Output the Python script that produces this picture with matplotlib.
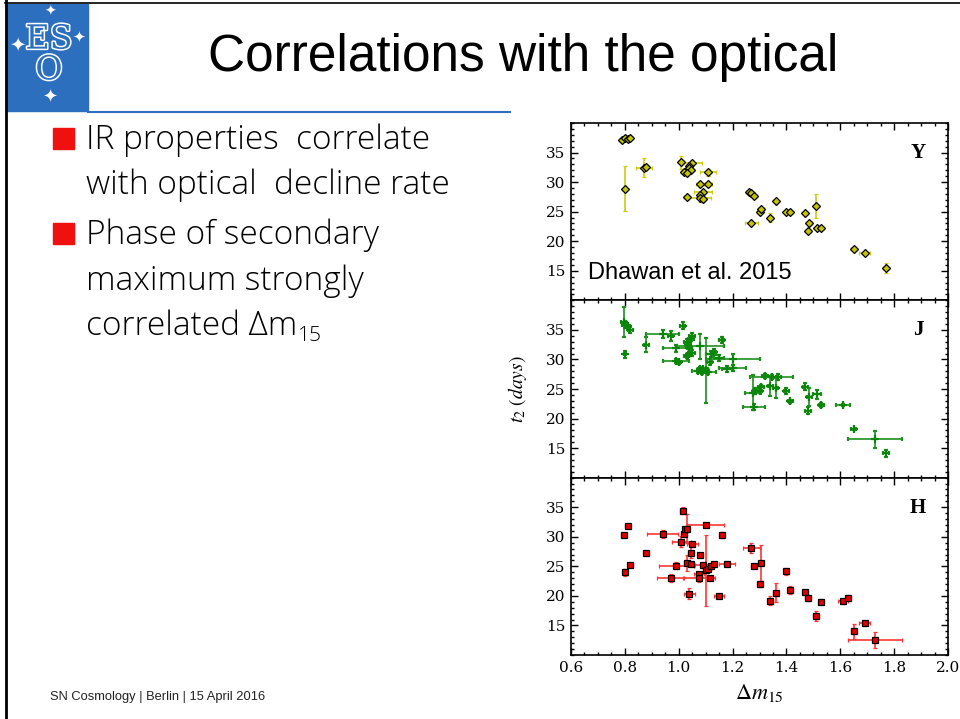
import matplotlib
matplotlib.use('Agg')
import matplotlib.pyplot as plt
import matplotlib.patheffects as pe
from matplotlib.patches import Rectangle
from matplotlib.ticker import MultipleLocator

plt.rcParams['mathtext.fontset'] = 'stix'

# t2 (days) against delta m15 (Dhawan et al. 2015)
# Y band
y_dm = [0.79, 0.80, 0.81, 0.82, 0.80, 0.87, 0.88, 1.01, 1.05, 1.04, 1.04, 1.045, 1.02, 1.03,
        1.11, 1.03, 1.08, 1.11, 1.09, 1.08, 1.08, 1.09, 1.26, 1.27, 1.28, 1.27, 1.30, 1.305,
        1.34, 1.36, 1.40, 1.415, 1.47, 1.485, 1.48, 1.51, 1.515, 1.53, 1.65, 1.69, 1.77]
y_t2 = [37.1, 37.4, 37.3, 37.5, 28.9, 32.4, 32.6, 33.4, 33.2, 32.8, 32.4, 32.1, 31.7, 31.5,
        31.7, 27.5, 29.6, 29.7, 28.3, 27.9, 27.3, 27.2, 28.3, 28.1, 27.7, 23.0, 25.0, 25.4,
        24.0, 26.8, 24.9, 24.9, 24.8, 23.0, 21.7, 26.0, 22.2, 22.3, 18.7, 18.0, 15.5]
y_dm_err = [0.01, 0.01, 0.01, 0.01, 0.005, 0.03, 0.01, 0.01, 0.035, 0.01, 0.01, 0.01, 0.01, 0.01,
            0.03, 0.01, 0.017, 0.015, 0.035, 0.01, 0.04, 0.01, 0.01, 0.01, 0.01, 0.023, 0.01, 0.01,
            0.01, 0.01, 0.01, 0.01, 0.01, 0.01, 0.01, 0.005, 0.01, 0.01, 0.01, 0.02, 0.01]
y_t2_err = [0.3, 0.3, 0.2, 0.2, 3.8, 1.6, 0.4, 1.1, 0.4, 0.3, 0.3, 0.3, 0.3, 0.3,
            0.6, 0.3, 0.3, 0.3, 0.3, 0.3, 0.6, 0.6, 0.2, 0.2, 0.2, 0.2, 0.3, 0.3,
            0.7, 0.3, 0.2, 0.2, 0.2, 0.4, 0.2, 2.0, 0.2, 0.2, 0.3, 0.2, 0.8]

# J band
j_dm = [0.795, 0.80, 0.81, 0.82, 0.80, 0.88, 0.94, 0.97, 1.015, 0.99, 0.99, 1.00, 1.03, 1.035,
        1.04, 1.045, 1.05, 1.04, 1.05, 1.03, 1.08, 1.08, 1.09, 1.07, 1.085, 1.10, 1.11, 1.115,
        1.12, 1.13, 1.15, 1.16, 1.18, 1.20, 1.20, 1.275, 1.28, 1.285, 1.30, 1.305, 1.32, 1.345,
        1.34, 1.36, 1.37, 1.40, 1.415, 1.47, 1.485, 1.48, 1.515, 1.53, 1.61, 1.65, 1.73, 1.77]
j_t2 = [36.3, 35.9, 35.6, 35.0, 30.9, 32.5, 34.3, 34.0, 35.7, 31.9, 29.7, 29.5, 32.9, 32.5,
        32.0, 33.4, 34.0, 30.9, 31.1, 30.6, 32.2, 28.4, 28.3, 28.0, 27.8, 28.2, 27.9, 29.5,
        30.9, 31.3, 30.2, 33.3, 28.4, 28.5, 30.0, 24.4, 21.9, 24.6, 24.7, 25.3, 27.2, 27.0,
        25.5, 25.1, 27.1, 24.7, 22.9, 25.4, 23.7, 21.3, 24.1, 22.3, 22.3, 18.2, 16.5, 14.1]
j_dm_err = [0.01, 0.01, 0.01, 0.01, 0.005, 0.01, 0.06, 0.01, 0.01, 0.05, 0.05, 0.01, 0.01, 0.01,
            0.01, 0.01, 0.01, 0.01, 0.01, 0.01, 0.09, 0.01, 0.02, 0.02, 0.01, 0.01, 0.03, 0.01,
            0.02, 0.01, 0.02, 0.01, 0.02, 0.05, 0.10, 0.03, 0.04, 0.01, 0.01, 0.01, 0.01, 0.08,
            0.01, 0.01, 0.01, 0.01, 0.01, 0.01, 0.01, 0.01, 0.015, 0.01, 0.025, 0.01, 0.10, 0.01]
j_t2_err = [2.5, 0.6, 0.3, 0.5, 0.6, 1.3, 0.7, 0.8, 0.6, 0.6, 0.3, 0.2, 0.5, 0.5,
            0.3, 0.3, 0.5, 0.3, 0.5, 0.3, 2.1, 0.3, 0.3, 0.3, 0.3, 5.5, 0.3, 0.5,
            0.5, 0.5, 0.5, 0.5, 0.5, 0.5, 1.0, 3.0, 0.5, 0.5, 0.4, 0.4, 0.4, 0.3,
            1.7, 1.7, 0.5, 0.5, 0.3, 0.6, 1.5, 0.6, 0.8, 0.4, 0.1, 0.1, 1.4, 0.6]

# H band
h_dm = [0.795, 0.81, 0.80, 0.82, 0.88, 0.94, 0.97, 0.99, 1.015, 1.01, 1.02, 1.025, 1.03, 1.10,
        1.05, 1.045, 1.03, 1.045, 1.04, 1.08, 1.09, 1.10, 1.075, 1.075, 1.11, 1.115, 1.12, 1.13,
        1.15, 1.16, 1.18, 1.27, 1.28, 1.305, 1.30, 1.34, 1.36, 1.40, 1.415, 1.47, 1.48, 1.51,
        1.53, 1.61, 1.63, 1.65, 1.69, 1.73]
h_t2 = [30.3, 31.8, 24.0, 25.2, 27.3, 30.5, 23.0, 25.1, 34.4, 29.2, 30.5, 31.3, 31.4, 32.0,
        28.7, 27.3, 25.6, 25.4, 20.4, 26.9, 25.2, 24.3, 23.7, 23.0, 24.6, 23.1, 25.1, 25.4,
        20.0, 30.3, 25.4, 28.1, 25.1, 25.6, 22.0, 19.2, 20.5, 24.2, 21.0, 20.7, 19.7, 16.6,
        19.0, 19.1, 19.7, 14.0, 15.4, 12.5]
h_dm_err = [0.01, 0.01, 0.005, 0.01, 0.01, 0.058, 0.05, 0.065, 0.01, 0.035, 0.01, 0.01, 0.01, 0.07,
            0.02, 0.01, 0.01, 0.01, 0.02, 0.01, 0.03, 0.01, 0.02, 0.06, 0.01, 0.01, 0.01, 0.01,
            0.02, 0.01, 0.03, 0.03, 0.01, 0.01, 0.01, 0.01, 0.01, 0.01, 0.01, 0.01, 0.01, 0.01,
            0.01, 0.02, 0.01, 0.01, 0.02, 0.10]
h_t2_err = [0.2, 0.2, 0.6, 0.2, 0.3, 0.7, 0.7, 0.6, 0.6, 1.0, 0.4, 0.3, 2.5, 0.2,
            0.3, 0.9, 1.4, 0.3, 1.0, 0.2, 0.2, 6.0, 0.3, 0.6, 0.3, 0.2, 0.3, 0.4,
            0.4, 0.5, 0.4, 0.8, 0.2, 3.0, 0.5, 0.8, 1.6, 0.6, 0.6, 0.2, 0.5, 0.8,
            0.4, 0.4, 0.4, 1.3, 0.2, 1.4]

bullets = ['IR properties  correlate', 'with optical  decline rate',
           'Phase of secondary', 'maximum strongly', 'correlated \u0394m']

W, H = 960, 719
eso_blue = '#2d6fbf'
fig = plt.figure(figsize=(9.6, 7.19), dpi=100)

# slide decoration, drawn in pixel coordinates
bg = fig.add_axes([0, 0, 1, 1])
bg.set_xlim(0, W)
bg.set_ylim(H, 0)
bg.axis('off')
bg.plot([5.5, 5.5], [0, H], color='k', lw=2)
bg.plot([5, W], [3, 3], color='k', lw=1.2)
bg.add_patch(Rectangle((6, 4), 82, 107, color=eso_blue))
bg.plot([88, 510], [111.5, 111.5], color=eso_blue, lw=1.5)

logo_fx = [pe.Stroke(linewidth=2.2, foreground='white'), pe.Normal()]
bg.text(49, 55, 'ES\nO', color=eso_blue, fontsize=24, family='DejaVu Serif',
        ha='center', va='center', multialignment='center', linespacing=0.95,
        path_effects=logo_fx)
for sx, sy, ss in [(50, 12, 10), (17, 45, 14), (79, 37, 11), (50, 98, 13)]:
    bg.text(sx, sy, '\u2726', color='white', fontsize=ss, family='DejaVu Sans',
            ha='center', va='center')

bg.text(523, 71, 'Correlations with the optical', fontsize=37,
        family=['Liberation Sans', 'DejaVu Sans'], ha='center', va='baseline')

body_font = ['Open Sans', 'DejaVu Sans']
baselines = [149, 194, 244, 290, 335]
for txt, yb in zip(bullets, baselines):
    t = bg.text(86, yb, txt, fontsize=24, family=body_font, weight='light',
                va='baseline')
for yb in [baselines[0], baselines[2]]:
    bg.add_patch(Rectangle((53, yb - 21), 21, 21, color='#f01010'))

# subscript after the last bullet line
fig.canvas.draw()
ext = t.get_window_extent()
bg.text(ext.x1 + 1, baselines[4] + 6, '15', fontsize=15, family=body_font,
        weight='light', va='baseline')

bg.text(50, 700, 'SN Cosmology | Berlin | 15 April 2016', fontsize=9.3,
        family=['Liberation Sans', 'DejaVu Sans'], color='#222222', va='baseline')

# the three panels
panels = [
    ('Y', y_dm, y_t2, y_dm_err, y_t2_err,
     dict(fmt='D', ms=4.5, mfc='#c4c400', mec='k', mew=0.9, ecolor='#cccc10')),
    ('J', j_dm, j_t2, j_dm_err, j_t2_err,
     dict(fmt='+', ms=6, mew=1.6, color='#0b860b', ecolor='#1f8f1f')),
    ('H', h_dm, h_t2, h_dm_err, h_t2_err,
     dict(fmt='s', ms=4, mfc='#e00000', mec='k', mew=0.9, ecolor='#ff3535')),
]
top0, ph = 123, 532 / 3
for i, (band, dm, t2, dme, t2e, style) in enumerate(panels):
    top = top0 + i * ph
    ax = fig.add_axes([571 / W, 1 - (top + ph) / H, 377 / W, ph / H])
    ax.errorbar(dm, t2, xerr=dme, yerr=t2e, elinewidth=1.2, capsize=1.5,
                capthick=1, ls='none', **style)
    ax.set_xlim(0.6, 2.0)
    ax.set_ylim(10, 40)
    ax.xaxis.set_major_locator(MultipleLocator(0.2))
    ax.xaxis.set_minor_locator(MultipleLocator(0.05))
    ax.set_yticks([15, 20, 25, 30, 35])
    ax.yaxis.set_minor_locator(MultipleLocator(1))
    ax.tick_params(which='both', direction='in', top=True, right=True, width=1)
    ax.tick_params(which='major', length=5, labelsize=11, pad=4)
    ax.tick_params(which='minor', length=2.5)
    for lab in ax.get_xticklabels() + ax.get_yticklabels():
        lab.set_family('DejaVu Serif')
    for s in ax.spines.values():
        s.set_linewidth(1.2)
    ax.text(0.92, 0.83, band, transform=ax.transAxes, fontsize=15,
            family='Liberation Serif', weight='bold', ha='center', va='center')
    if i < 2:
        ax.tick_params(labelbottom=False)
    if i == 0:
        ax.text(0.045, 0.123, 'Dhawan et al. 2015', transform=ax.transAxes,
                fontsize=17, family=['Liberation Sans', 'DejaVu Sans'], va='baseline')
    if i == 1:
        ax.set_ylabel(r'$t_2\ (days)$', fontsize=14)
        ax.yaxis.set_label_coords(-0.111, 0.5)
    if i == 2:
        ax.set_xlabel(r'$\Delta m_{15}$', fontsize=16)
        ax.xaxis.set_label_coords(0.5, -0.155)

fig.savefig('out.png', dpi=100)
